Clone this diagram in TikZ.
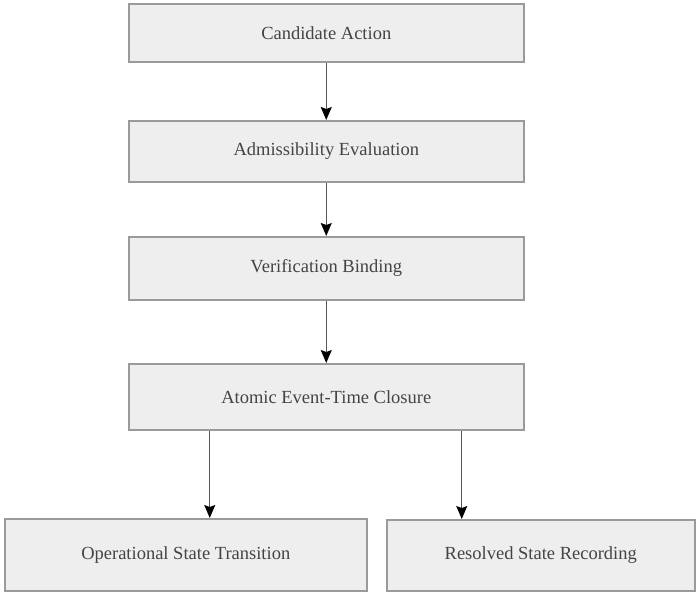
\documentclass[tikz,border=0pt]{standalone}
\usepackage{fontspec}
\setmainfont{Liberation Serif}
\usetikzlibrary{arrows.meta,calc}
\definecolor{boxfill}{HTML}{EEEEEE}
\definecolor{boxline}{HTML}{9A9A9A}
\definecolor{txt}{HTML}{444444}
\definecolor{arrline}{HTML}{555555}
\begin{document}
\begin{tikzpicture}[x=1pt,y=-1pt,
  stepbox/.style={draw=boxline,line width=1.5pt,fill=boxfill,text=txt,
    font=\fontsize{18.5}{22}\selectfont,inner sep=0pt,anchor=north west},
  arr/.style={draw=arrline,line width=1.2pt,-{Stealth[length=13pt,width=11pt,inset=2pt,fill=black,color=black]}}]
\useasboundingbox (0,0) rectangle (696,592);
\node[stepbox,minimum width=395pt,minimum height=58pt] (a) at (128,3) {Candidate Action};
\node[stepbox,minimum width=395pt,minimum height=61pt] (b) at (128,120) {Admissibility Evaluation};
\node[stepbox,minimum width=395pt,minimum height=63pt] (c) at (128,236) {Verification Binding};
\node[stepbox,minimum width=395pt,minimum height=66pt] (d) at (128,363) {Atomic Event-Time Closure};
\node[stepbox,minimum width=362pt,minimum height=72pt] (e) at (4,518) {Operational State Transition};
\node[stepbox,minimum width=308pt,minimum height=71pt] (f) at (386,519) {Resolved State Recording};
\draw[arr] (a.south) -- (b.north);
\draw[arr] (b.south) -- (c.north);
\draw[arr] (c.south) -- (d.north);
\draw[arr] ([xshift=-116.5pt]d.south) -- ([xshift=-116.5pt]d.south |- e.north);
\draw[arr] ([xshift=135.5pt]d.south) -- ([xshift=135.5pt]d.south |- f.north);
\end{tikzpicture}
\end{document}
